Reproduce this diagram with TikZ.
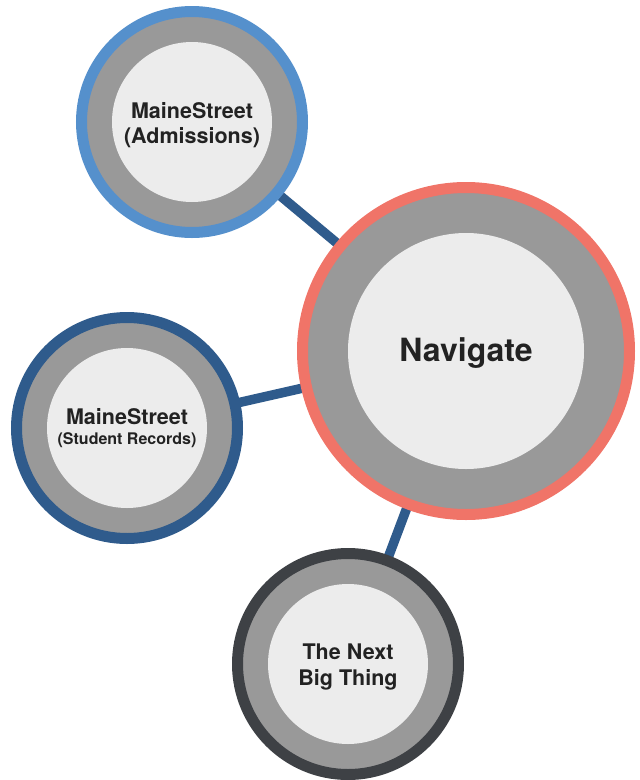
\documentclass[tikz,border=0pt]{standalone}
\usepackage{fontspec}
\setmainfont{TeX Gyre Heros}
\usetikzlibrary{backgrounds}
\definecolor{ringblue}{HTML}{5590CC}
\definecolor{darkblue}{HTML}{2F5B8C}
\definecolor{ringred}{HTML}{F07468}
\definecolor{ringdark}{HTML}{3E4145}
\definecolor{midgray}{HTML}{999999}
\definecolor{lightfill}{HTML}{ECECEC}
\definecolor{txt}{HTML}{222222}
\tikzset{
  outerring/.style={circle, inner sep=0pt, fill=midgray, line width=11pt, draw=#1},
  smallring/.style={outerring=#1, minimum size=221pt},
  bigring/.style={outerring=#1, minimum size=327pt},
  core/.style={circle, inner sep=0pt, fill=lightfill, text=txt, align=center},
  smallcore/.style={core, minimum size=160pt, font=\bfseries\fontsize{21.5}{25.5}\selectfont},
  bigcore/.style={core, minimum size=236pt, font=\bfseries\fontsize{32}{36}\selectfont},
  label/.style={inner sep=0pt, text=txt, align=center},
  link/.style={draw=darkblue, line width=9.5pt}
}
\begin{document}
\begin{tikzpicture}[x=1pt,y=-1pt]
\useasboundingbox (0,0) rectangle (640,780);
\node[bigring=ringred] (nav) at (466,351) {};
\node[bigcore] (navin) at (466,351) {};
\node[label, font=\bfseries\fontsize{32}{36}\selectfont] (navt) at (466,353) {Navigate};
\node[smallring=ringblue] (adm) at (192,122) {};
\node[smallcore] (admin) at (192,122) {};
\node[label, font=\bfseries\fontsize{21.5}{25.5}\selectfont] (admt) at (192,125) {MaineStreet\\(Admissions)};
\node[smallring=darkblue] (stu) at (127,428) {};
\node[smallcore] (stuin) at (127,428) {};
\node[label, font=\bfseries\fontsize{21.5}{25}\selectfont] (stut) at (127,428) {MaineStreet\\[-5pt]{\fontsize{16}{19}\selectfont (Student Records)}};
\node[smallring=ringdark] (nxt) at (348,664) {};
\node[smallcore] (nxtin) at (348,664) {};
\node[label, font=\bfseries\fontsize{21.5}{25.5}\selectfont] (nxtt) at (348,667) {The Next\\Big Thing};
\begin{scope}[on background layer]
\draw[link] (adm.center) -- (nav.center);
\draw[link] (stu.center) -- (nav.center);
\draw[link] (nxt.center) -- (nav.center);
\end{scope}
\end{tikzpicture}
\end{document}
